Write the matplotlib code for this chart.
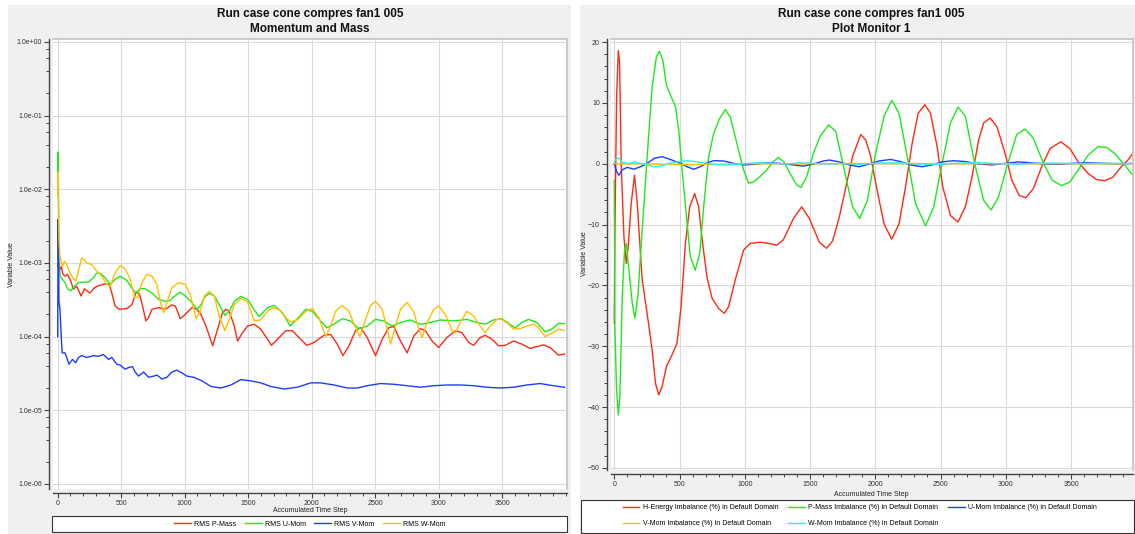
import matplotlib
matplotlib.use("Agg")
import matplotlib.pyplot as plt
from matplotlib.patches import Rectangle
from matplotlib.lines import Line2D
from matplotlib.ticker import MultipleLocator, FixedLocator, FuncFormatter, NullFormatter

plt.rcParams["font.family"] = ["Liberation Sans", "DejaVu Sans"]

W, H = 1135, 534

# ---- left chart: RMS residuals (time step, value) ----
rms_p_mass = [
    (0, 9.0e-4), (10, 1.0e-3), (20, 8.2e-4), (30, 8.8e-4), (40, 7.0e-4), (58, 6.6e-4), (76, 7.0e-4),
    (97, 6.0e-4), (124, 4.4e-4), (150, 4.8e-4), (184, 3.55e-4), (210, 4.45e-4), (229, 4.2e-4),
    (255, 3.9e-4), (289, 4.6e-4), (321, 4.9e-4), (373, 5.2e-4), (405, 5.1e-4), (426, 3.9e-4),
    (452, 2.6e-4), (484, 2.34e-4), (544, 2.4e-4), (584, 2.7e-4), (615, 3.9e-4), (642, 3.9e-4),
    (668, 2.6e-4), (694, 1.63e-4), (715, 1.8e-4), (742, 2.34e-4), (794, 2.47e-4), (847, 2.34e-4),
    (899, 2.7e-4), (926, 2.6e-4), (965, 1.75e-4), (1005, 2.0e-4), (1057, 2.47e-4), (1097, 2.34e-4),
    (1128, 2.0e-4), (1167, 1.39e-4), (1220, 7.5e-5), (1259, 1.26e-4), (1298, 2.11e-4), (1324, 2.34e-4),
    (1351, 2.2e-4), (1390, 1.39e-4), (1416, 8.7e-5), (1455, 1.13e-4), (1495, 1.39e-4), (1547, 1.47e-4),
    (1599, 1.26e-4), (1652, 9.2e-5), (1683, 7.6e-5), (1730, 9.2e-5), (1796, 1.2e-4), (1848, 1.2e-4),
    (1913, 9.2e-5), (1961, 7.6e-5), (2018, 8.3e-5), (2097, 1.04e-4), (2149, 1.07e-4), (2201, 7.9e-5),
    (2246, 5.5e-5), (2293, 7.5e-5), (2345, 1.2e-4), (2385, 1.32e-4), (2437, 9.7e-5), (2502, 5.5e-5),
    (2555, 9.2e-5), (2607, 1.32e-4), (2646, 1.37e-4), (2699, 8.7e-5), (2751, 6.0e-5), (2804, 1.02e-4),
    (2856, 1.28e-4), (2895, 1.2e-4), (2948, 8.7e-5), (3000, 7.1e-5), (3065, 9.7e-5), (3131, 1.2e-4),
    (3183, 1.13e-4), (3236, 8.3e-5), (3275, 7.6e-5), (3327, 9.7e-5), (3366, 1.04e-4), (3419, 9.2e-5),
    (3471, 7.5e-5), (3523, 7.6e-5), (3589, 8.7e-5), (3654, 7.9e-5), (3720, 6.9e-5), (3772, 7.3e-5),
    (3825, 7.7e-5), (3877, 7.1e-5), (3942, 5.6e-5), (3990, 5.8e-5),
]
rms_u_mom = [
    (0, 1.3e-2), (3, 3.2e-2), (10, 1.0e-3), (20, 6.6e-4), (37, 6.0e-4), (58, 5.4e-4), (79, 4.4e-4),
    (105, 4.2e-4), (137, 4.9e-4), (163, 5.4e-4), (203, 5.5e-4), (242, 5.5e-4), (281, 6.3e-4),
    (308, 7.3e-4), (334, 7.2e-4), (373, 6.3e-4), (413, 5.1e-4), (452, 6.0e-4), (492, 6.6e-4),
    (544, 5.8e-4), (589, 4.4e-4), (615, 3.9e-4), (650, 4.5e-4), (689, 4.45e-4), (742, 3.9e-4),
    (794, 3.2e-4), (847, 3.0e-4), (886, 3.1e-4), (926, 3.6e-4), (965, 4.0e-4), (1005, 3.55e-4),
    (1057, 2.9e-4), (1097, 2.34e-4), (1128, 2.7e-4), (1154, 3.4e-4), (1193, 3.85e-4), (1233, 3.55e-4),
    (1272, 2.7e-4), (1317, 1.94e-4), (1351, 2.2e-4), (1390, 3.0e-4), (1442, 3.5e-4), (1495, 3.2e-4),
    (1547, 2.3e-4), (1586, 1.87e-4), (1652, 2.47e-4), (1704, 2.65e-4), (1769, 2.11e-4), (1830, 1.39e-4),
    (1887, 1.75e-4), (1953, 2.34e-4), (2005, 2.2e-4), (2070, 1.63e-4), (2118, 1.32e-4), (2175, 1.47e-4),
    (2241, 1.75e-4), (2306, 1.63e-4), (2372, 1.28e-4), (2437, 1.39e-4), (2502, 1.71e-4), (2568, 1.63e-4),
    (2633, 1.39e-4), (2699, 1.55e-4), (2777, 1.68e-4), (2856, 1.47e-4), (2934, 1.55e-4), (3013, 1.68e-4),
    (3118, 1.63e-4), (3222, 1.71e-4), (3301, 1.55e-4), (3366, 1.47e-4), (3432, 1.68e-4), (3497, 1.75e-4),
    (3550, 1.51e-4), (3602, 1.31e-4), (3654, 1.55e-4), (3707, 1.71e-4), (3772, 1.55e-4), (3838, 1.16e-4),
    (3890, 1.26e-4), (3942, 1.51e-4), (3990, 1.5e-4),
]
rms_v_mom = [
    (0, 1.0e-4), (3, 3.9e-3), (6, 1.9e-3), (10, 3.0e-4), (18, 2.3e-4), (28, 1.0e-4), (35, 6.0e-5),
    (58, 6.0e-5), (89, 4.2e-5), (116, 4.9e-5), (142, 4.4e-5), (163, 5.2e-5), (189, 5.5e-5), (229, 5.2e-5),
    (281, 5.5e-5), (321, 5.4e-5), (360, 5.7e-5), (400, 4.9e-5), (426, 5.2e-5), (466, 4.2e-5),
    (492, 4.1e-5), (531, 3.6e-5), (558, 3.8e-5), (589, 3.9e-5), (610, 3.3e-5), (636, 2.9e-5),
    (676, 3.3e-5), (715, 2.8e-5), (755, 2.9e-5), (781, 3.0e-5), (821, 2.65e-5), (860, 2.8e-5),
    (899, 3.3e-5), (939, 3.5e-5), (978, 3.2e-5), (1018, 2.9e-5), (1070, 2.8e-5), (1136, 2.5e-5),
    (1207, 2.1e-5), (1285, 2.0e-5), (1364, 2.2e-5), (1442, 2.6e-5), (1521, 2.5e-5), (1599, 2.35e-5),
    (1678, 2.1e-5), (1782, 1.94e-5), (1887, 2.05e-5), (1992, 2.35e-5), (2070, 2.35e-5), (2175, 2.2e-5),
    (2280, 2.0e-5), (2359, 2.0e-5), (2437, 2.15e-5), (2542, 2.3e-5), (2646, 2.25e-5), (2751, 2.15e-5),
    (2856, 2.05e-5), (2961, 2.15e-5), (3065, 2.2e-5), (3170, 2.2e-5), (3275, 2.15e-5), (3380, 2.05e-5),
    (3484, 2.0e-5), (3589, 2.05e-5), (3694, 2.2e-5), (3798, 2.3e-5), (3903, 2.15e-5), (3990, 2.05e-5),
]
rms_w_mom = [
    (0, 8.0e-3), (3, 1.7e-2), (10, 2.1e-3), (18, 1.23e-3), (37, 9.0e-4), (53, 1.05e-3), (71, 9.5e-4),
    (97, 7.3e-4), (124, 6.1e-4), (142, 5.7e-4), (163, 7.7e-4), (189, 1.17e-3), (210, 1.1e-3),
    (229, 1.0e-3), (268, 9.5e-4), (308, 7.7e-4), (347, 6.6e-4), (387, 5.1e-4), (413, 4.8e-4),
    (452, 7.3e-4), (492, 9.2e-4), (531, 8.3e-4), (571, 6.0e-4), (605, 3.4e-4), (631, 3.4e-4),
    (663, 5.4e-4), (702, 7.0e-4), (742, 6.6e-4), (781, 5.1e-4), (807, 3.0e-4), (834, 2.11e-4),
    (860, 2.9e-4), (899, 4.6e-4), (952, 5.4e-4), (1005, 5.1e-4), (1044, 3.7e-4), (1089, 1.75e-4),
    (1123, 2.2e-4), (1154, 3.55e-4), (1193, 4.1e-4), (1233, 3.55e-4), (1272, 1.9e-4), (1317, 1.2e-4),
    (1351, 1.71e-4), (1390, 2.7e-4), (1442, 3.3e-4), (1495, 2.95e-4), (1547, 1.63e-4), (1599, 1.68e-4),
    (1652, 2.2e-4), (1691, 2.47e-4), (1743, 2.34e-4), (1796, 1.8e-4), (1835, 1.58e-4), (1887, 1.68e-4),
    (1953, 2.2e-4), (2005, 2.4e-4), (2057, 1.8e-4), (2110, 1.0e-4), (2149, 1.39e-4), (2188, 2.2e-4),
    (2241, 2.65e-4), (2293, 2.2e-4), (2345, 1.32e-4), (2379, 1.0e-4), (2424, 1.71e-4), (2463, 2.65e-4),
    (2502, 3.0e-4), (2555, 2.34e-4), (2594, 1.26e-4), (2620, 7.9e-5), (2660, 1.39e-4), (2699, 2.34e-4),
    (2751, 2.9e-4), (2804, 2.15e-4), (2843, 1.26e-4), (2869, 9.7e-5), (2908, 1.55e-4), (2961, 2.34e-4),
    (3000, 2.6e-4), (3052, 2.0e-4), (3105, 1.2e-4), (3131, 1.13e-4), (3170, 1.55e-4), (3222, 2.2e-4),
    (3275, 1.9e-4), (3327, 1.39e-4), (3366, 1.13e-4), (3406, 1.39e-4), (3458, 1.71e-4), (3497, 1.71e-4),
    (3550, 1.47e-4), (3589, 1.26e-4), (3641, 1.28e-4), (3694, 1.39e-4), (3746, 1.47e-4), (3785, 1.32e-4),
    (3838, 1.0e-4), (3890, 1.1e-4), (3942, 1.26e-4), (3990, 1.2e-4),
]

# ---- right chart: imbalances in % (time step, value) ----
h_energy_imb = [
    (0, -26.2), (5, -10.9), (18, 11.0), (31, 18.6), (41, 16.5), (53, 0.0), (74, -12.0), (92, -16.4),
    (107, -13.6), (130, -6.5), (155, -1.9), (176, -6.5), (214, -19.1), (252, -24.6), (290, -30.6),
    (316, -36.1), (341, -38.0), (367, -36.6), (400, -33.3), (443, -31.4), (481, -29.5), (512, -23.5),
    (545, -13.1), (578, -7.1), (616, -4.9), (647, -7.1), (677, -13.1), (710, -18.6), (749, -22.1),
    (800, -23.8), (843, -24.6), (876, -23.5), (927, -19.1), (991, -14.2), (1042, -13.1), (1118, -12.9),
    (1182, -13.1), (1245, -13.4), (1296, -12.5), (1373, -9.0), (1436, -7.1), (1495, -9.0), (1571, -12.9),
    (1627, -13.9), (1673, -12.7), (1724, -8.8), (1775, -3.8), (1826, 1.2), (1889, 4.8), (1927, 3.9),
    (1965, 1.2), (2009, -3.8), (2067, -9.9), (2126, -12.4), (2182, -9.9), (2232, -3.8), (2283, 3.4),
    (2329, 8.3), (2380, 9.7), (2423, 8.3), (2474, 2.8), (2517, -3.8), (2576, -8.5), (2634, -9.6),
    (2690, -7.1), (2741, -2.2), (2792, 3.9), (2830, 6.7), (2881, 7.5), (2932, 6.1), (2995, 1.7),
    (3046, -2.7), (3102, -5.2), (3153, -5.6), (3211, -4.1), (3275, -0.5), (3339, 2.5), (3422, 3.6),
    (3491, 2.5), (3555, 0.3), (3631, -1.6), (3695, -2.6), (3758, -2.8), (3822, -2.2), (3885, -0.5),
    (3936, 0.6), (3974, 1.7),
]
p_mass_imb = [
    (0, -2.7), (5, -27.3), (18, -37.2), (31, -41.3), (43, -38.3), (61, -21.8), (79, -14.2), (92, -13.1),
    (107, -16.4), (138, -22.9), (158, -25.4), (181, -21.8), (214, -10.9), (252, 1.1), (290, 12.6),
    (323, 17.6), (346, 18.5), (372, 17.0), (400, 12.9), (436, 11.0), (469, 9.4), (494, 5.5), (520, -1.0),
    (553, -8.7), (583, -15.3), (621, -17.5), (655, -14.7), (685, -7.1), (723, 1.1), (762, 5.0),
    (807, 7.4), (851, 8.9), (889, 7.7), (940, 3.3), (991, -1.0), (1029, -3.2), (1067, -3.0),
    (1118, -2.1), (1169, -1.0), (1215, 0.3), (1258, 1.0), (1301, 0.3), (1347, -1.6), (1398, -3.5),
    (1431, -3.9), (1475, -2.1), (1526, 1.7), (1577, 4.5), (1642, 6.4), (1698, 5.3), (1762, -1.0),
    (1826, -7.1), (1881, -9.0), (1940, -6.0), (1998, 1.2), (2067, 7.8), (2126, 10.4), (2182, 8.3),
    (2245, 1.2), (2309, -6.6), (2385, -10.2), (2448, -7.1), (2507, -0.5), (2576, 6.7), (2634, 9.3),
    (2690, 7.8), (2761, 0.1), (2830, -6.0), (2888, -7.6), (2944, -5.5), (3016, 0.1), (3084, 4.8),
    (3148, 5.7), (3211, 4.2), (3288, 0.1), (3356, -2.7), (3428, -3.6), (3491, -3.0), (3555, -1.0),
    (3631, 1.4), (3707, 2.8), (3771, 2.7), (3834, 1.7), (3898, 0.1), (3974, -1.9),
]
u_mom_imb = [
    (0, 0.0), (18, -1.3), (36, -1.9), (61, -1.0), (99, -0.6), (150, -0.9), (201, -0.5), (252, 0.05),
    (308, 0.9), (367, 1.15), (430, 0.7), (507, 0.05), (558, -0.5), (609, -0.9), (660, -0.5), (711, 0.15),
    (762, 0.5), (838, 0.45), (914, 0.05), (991, -0.2), (1067, -0.1), (1169, 0.15), (1271, 0.05),
    (1373, -0.2), (1449, -0.4), (1526, -0.05), (1602, 0.45), (1648, 0.6), (1724, 0.3), (1800, -0.2),
    (1876, -0.5), (1953, -0.05), (2029, 0.45), (2118, 0.7), (2194, 0.35), (2270, -0.2), (2359, -0.5),
    (2436, -0.2), (2512, 0.3), (2601, 0.5), (2690, 0.35), (2792, -0.05), (2894, -0.2), (2995, 0.05),
    (3097, 0.3), (3199, 0.15), (3300, -0.05), (3402, -0.1), (3504, 0.05), (3631, 0.15), (3758, 0.05),
    (3860, 0.0), (3974, 0.05),
]
v_mom_imb = [
    (0, 0.0), (200, 0.0), (400, -0.1), (600, -0.15), (800, -0.1), (1000, 0.0), (1500, 0.0),
    (2000, 0.05), (2500, 0.0), (3000, 0.0), (3500, 0.0), (3974, 0.0),
]
w_mom_imb = [
    (0, 0.3), (18, 0.9), (36, 0.9), (61, 0.2), (112, 0.05), (150, 0.3), (201, 0.05), (252, -0.2),
    (303, -0.5), (354, -0.4), (418, 0.05), (481, 0.3), (558, 0.5), (634, 0.3), (711, 0.05), (813, -0.2),
    (914, -0.15), (1016, 0.05), (1118, 0.15), (1220, 0.05), (1322, -0.05), (1423, 0.15), (1526, 0.05),
    (1653, -0.05), (1724, 0.05), (1876, -0.1), (2029, 0.1), (2182, 0.15), (2334, -0.05), (2487, -0.1),
    (2639, 0.1), (2792, 0.15), (2944, 0.0), (3097, -0.05), (3250, 0.1), (3402, 0.1), (3555, 0.0),
    (3707, 0.05), (3860, 0.05), (3974, 0.0),
]

left_series = [
    ("RMS P-Mass", rms_p_mass, "#ff2a12"),
    ("RMS U-Mom", rms_u_mom, "#1ee81e"),
    ("RMS V-Mom", rms_v_mom, "#1f3dff"),
    ("RMS W-Mom", rms_w_mom, "#ffbf00"),
]
right_series = [
    ("H-Energy Imbalance (%) in Default Domain", h_energy_imb, "#ff2a12"),
    ("P-Mass Imbalance (%) in Default Domain", p_mass_imb, "#1ee81e"),
    ("U-Mom Imbalance (%) in Default Domain", u_mom_imb, "#1f3dff"),
    ("V-Mom Imbalance (%) in Default Domain", v_mom_imb, "#ffbf00"),
    ("W-Mom Imbalance (%) in Default Domain", w_mom_imb, "#2ef0f0"),
]
decades = [1e-6, 1e-5, 1e-4, 1e-3, 1e-2, 1e-1, 1e0]
step_ticks = list(range(0, 4000, 500))

SMALL = 5.0
PANEL = "#f0f0f0"
GRID = "#dadada"


def px_rect(x0, y0, x1, y1):
    # pixel box (top-left origin) -> figure fraction [l, b, w, h]
    return [x0 / W, 1 - y1 / H, (x1 - x0) / W, (y1 - y0) / H]


def fig_text(fig, x, y, s, **kw):
    fig.text(x / W, 1 - y / H, s, ha="center", va="center", fontsize=SMALL, color="#222222", **kw)


def title(fig, x, lines):
    for y, s in zip((14, 29), lines):
        fig.text(x / W, 1 - y / H, s, ha="center", va="center", fontsize=8.5,
                 fontweight="bold", color="#111111")


def style_axes(ax):
    for side in ("left", "bottom"):
        ax.spines[side].set_position(("outward", 3))
        ax.spines[side].set_color("#444444")
        ax.spines[side].set_linewidth(1.0)
    for side in ("top", "right"):
        ax.spines[side].set_color("#c4c4c4")
        ax.spines[side].set_linewidth(1.2)
    ax.grid(True, which="major", color=GRID, linewidth=0.8)
    ax.set_axisbelow(True)
    ax.tick_params(which="major", direction="out", length=3.5, width=0.8, color="#444444",
                   labelsize=SMALL, labelcolor="#333333", pad=1.5)
    ax.tick_params(which="minor", direction="out", length=2, width=0.7, color="#444444")


fig = plt.figure(figsize=(W / 100, H / 100), dpi=100, facecolor="white")

# panel backgrounds and legend boxes
for box in [(8, 5, 571, 534), (580, 5, 1135, 534)]:
    l, b, w, h = px_rect(*box)
    fig.patches.append(Rectangle((l, b), w, h, transform=fig.transFigure, facecolor=PANEL,
                                 edgecolor="none", zorder=-5))
for box in [(52, 516, 567, 532), (581, 500, 1134, 533)]:
    l, b, w, h = px_rect(*box)
    fig.patches.append(Rectangle((l, b), w, h, transform=fig.transFigure, facecolor="white",
                                 edgecolor="#333333", linewidth=0.8, zorder=-4))

# ---- left: Momentum and Mass ----
ax1 = fig.add_axes(px_rect(53, 39, 567, 489))
for name, pts, col in left_series:
    xs, ys = zip(*pts)
    ax1.plot(xs, ys, color=col, linewidth=1.0, label=name)
ax1.set_yscale("log")
ax1.set_ylim(10 ** -6.07, 10 ** 0.04)
ax1.set_xlim(-37, 4010)
ax1.yaxis.set_major_locator(FixedLocator(decades))
ax1.yaxis.set_minor_locator(FixedLocator([d * s for d in decades[:-1] for s in (2, 4, 6, 8)]))
ax1.yaxis.set_major_formatter(FuncFormatter(lambda v, p: f"{v:.1e}"))
ax1.yaxis.set_minor_formatter(NullFormatter())
ax1.xaxis.set_major_locator(FixedLocator(step_ticks))
ax1.xaxis.set_minor_locator(MultipleLocator(100))
style_axes(ax1)

title(fig, 310, ["Run case cone compres fan1 005", "Momentum and Mass"])
fig_text(fig, 310, 511, "Accumulated Time Step")
fig_text(fig, 12, 265, "Variable Value", rotation=90)

h1 = [Line2D([], [], color=c, linewidth=1.0) for _, _, c in left_series]
fig.legend(h1, [n for n, _, _ in left_series], loc="center", bbox_to_anchor=(310 / W, 1 - 524 / H),
           ncol=4, frameon=False, fontsize=SMALL, handlelength=2.4, columnspacing=1.2,
           handletextpad=0.5, borderpad=0.0)

# ---- right: Plot Monitor 1 ----
ax2 = fig.add_axes(px_rect(611, 39, 1133, 470))
for name, pts, col in right_series:
    xs, ys = zip(*pts)
    ax2.plot(xs, ys, color=col, linewidth=1.0, label=name)
ax2.set_ylim(-50.35, 20.5)
ax2.set_xlim(-25, 3975)
ax2.yaxis.set_major_locator(MultipleLocator(10))
ax2.yaxis.set_minor_locator(MultipleLocator(2))
ax2.xaxis.set_major_locator(FixedLocator(step_ticks))
ax2.xaxis.set_minor_locator(MultipleLocator(100))
style_axes(ax2)

title(fig, 871, ["Run case cone compres fan1 005", "Plot Monitor 1"])
fig_text(fig, 871, 494, "Accumulated Time Step")
fig_text(fig, 585, 254, "Variable Value", rotation=90)

# legend is filled column by column, so reorder to get the two rows right
order = [0, 3, 1, 4, 2]
h2 = [Line2D([], [], color=right_series[i][2], linewidth=1.0) for i in order]
fig.legend(h2, [right_series[i][0] for i in order], loc="center",
           bbox_to_anchor=(860 / W, 1 - 515.5 / H), ncol=3, frameon=False, fontsize=SMALL,
           handlelength=2.4, columnspacing=1.4, handletextpad=0.5, labelspacing=1.3, borderpad=0.0)

fig.savefig("out.png", dpi=100, facecolor="white")
